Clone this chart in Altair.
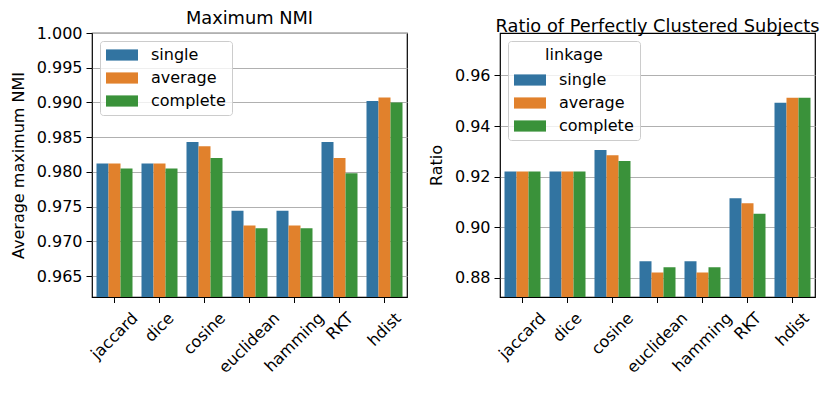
import altair as alt
import pandas as pd

metrics = ["jaccard", "dice", "cosine", "euclidean", "hamming", "RKT", "hdist"]
linkages = ["single", "average", "complete"]

nmi_single = [0.9812, 0.9812, 0.9843, 0.9744, 0.9744, 0.9843, 0.9902]
nmi_average = [0.9812, 0.9812, 0.9837, 0.9723, 0.9723, 0.9820, 0.9907]
nmi_complete = [0.9805, 0.9805, 0.9820, 0.9719, 0.9719, 0.9798, 0.9900]

ratio_single = [0.9220, 0.9220, 0.9305, 0.8865, 0.8865, 0.9115, 0.9492]
ratio_average = [0.9220, 0.9220, 0.9285, 0.8821, 0.8821, 0.9095, 0.9512]
ratio_complete = [0.9220, 0.9220, 0.9262, 0.8842, 0.8842, 0.9053, 0.9512]

nmi_ticks = [0.965, 0.970, 0.975, 0.980, 0.985, 0.990, 0.995, 1.000]
ratio_ticks = [0.88, 0.90, 0.92, 0.94, 0.96]

colors = ["#3274a1", "#e1812c", "#3a923a"]
FONT = "DejaVu Sans"
LBL = 16
TTL = 17.8


def long_df(series):
    rows = []
    for lk, vals in zip(linkages, series):
        for m, v in zip(metrics, vals):
            rows.append({"metric": m, "linkage": lk, "value": v})
    return pd.DataFrame(rows)


# approximate DejaVu Sans glyph widths (em) to centre rotated labels under ticks
EM = {"a": .613, "b": .635, "c": .55, "d": .635, "e": .615, "g": .635, "h": .634,
      "i": .278, "j": .278, "l": .278, "m": .974, "n": .634, "o": .612, "p": .635,
      "r": .411, "s": .521, "t": .392, "u": .634, "R": .695, "K": .656, "T": .611}


def label_offset_expr():
    parts = []
    for m in metrics:
        w = sum(EM.get(ch, 0.6) for ch in m) * LBL
        off = round(0.354 * (w - LBL), 1)
        parts.append(f"datum.label == '{m}' ? {off} : ")
    return "".join(parts) + "0"


def panel(df, title, ytitle, ydomain, yticks, yfmt, legend_title):
    legend = alt.Legend(
        orient="top-left", offset=8,
        symbolType="M-2,-0.7H2V0.7H-2Z", symbolSize=256, symbolStrokeWidth=0,
        symbolOffset=8, labelOffset=21, rowPadding=7,
        labelFontSize=LBL, labelFont=FONT, labelColor="black",
        fillColor="rgba(255,255,255,0.8)", strokeColor="#cccccc",
        cornerRadius=3, padding=6,
        **({"title": legend_title, "titleFontSize": LBL, "titleFont": FONT,
            "titleFontWeight": "normal", "titleColor": "black",
            "titleAnchor": "middle", "titlePadding": 9}
           if legend_title else {"title": None}),
    )
    return alt.Chart(df).mark_bar(clip=True).encode(
        x=alt.X("metric:N", sort=metrics,
                scale=alt.Scale(paddingInner=0.2, paddingOuter=0.1),
                axis=alt.Axis(title=None, labelAngle=-45, labelAlign="right",
                              labelBaseline="top", labelFontSize=LBL, labelFont=FONT,
                              labelColor="black",
                              labelOffset=alt.ExprRef(label_offset_expr()),
                              labelPadding=7, tickSize=5.5, tickColor="black",
                              domain=False, grid=False)),
        xOffset=alt.XOffset("linkage:N", sort=linkages,
                            scale=alt.Scale(paddingInner=0, paddingOuter=0)),
        y=alt.Y("value:Q",
                scale=alt.Scale(domain=ydomain, zero=False, nice=False),
                axis=alt.Axis(title=ytitle, values=yticks, format=yfmt,
                              labelFontSize=LBL, labelFont=FONT, labelColor="black",
                              titleFontSize=LBL, titleFont=FONT, titleColor="black",
                              titleFontWeight="normal", titlePadding=10,
                              tickSize=6, tickColor="black", labelPadding=4,
                              domain=False, grid=True, gridColor="#b0b0b0",
                              gridWidth=1)),
        color=alt.Color("linkage:N", sort=linkages,
                        scale=alt.Scale(domain=linkages, range=colors),
                        legend=legend),
    ).properties(
        width=315, height=264,
        title=alt.TitleParams(title, fontSize=TTL, font=FONT, fontWeight="normal",
                              color="black", offset=-2.5),
    )


left = panel(long_df([nmi_single, nmi_average, nmi_complete]),
             "Maximum NMI", "Average maximum NMI", [0.962, 1.000],
             nmi_ticks, ".3f", None)
right = panel(long_df([ratio_single, ratio_average, ratio_complete]),
              "Ratio of Perfectly Clustered Subjects", "Ratio", [0.8724, 0.9768],
              ratio_ticks, ".2f", "linkage")

chart = alt.hconcat(left, right, spacing=19).resolve_scale(color="independent").properties(
    padding={"left": 1, "top": 1, "right": 2, "bottom": 2}
).configure_view(stroke="black", strokeWidth=1.2)

chart.save("out.html", embed_options={"renderer": "svg", "actions": False})
